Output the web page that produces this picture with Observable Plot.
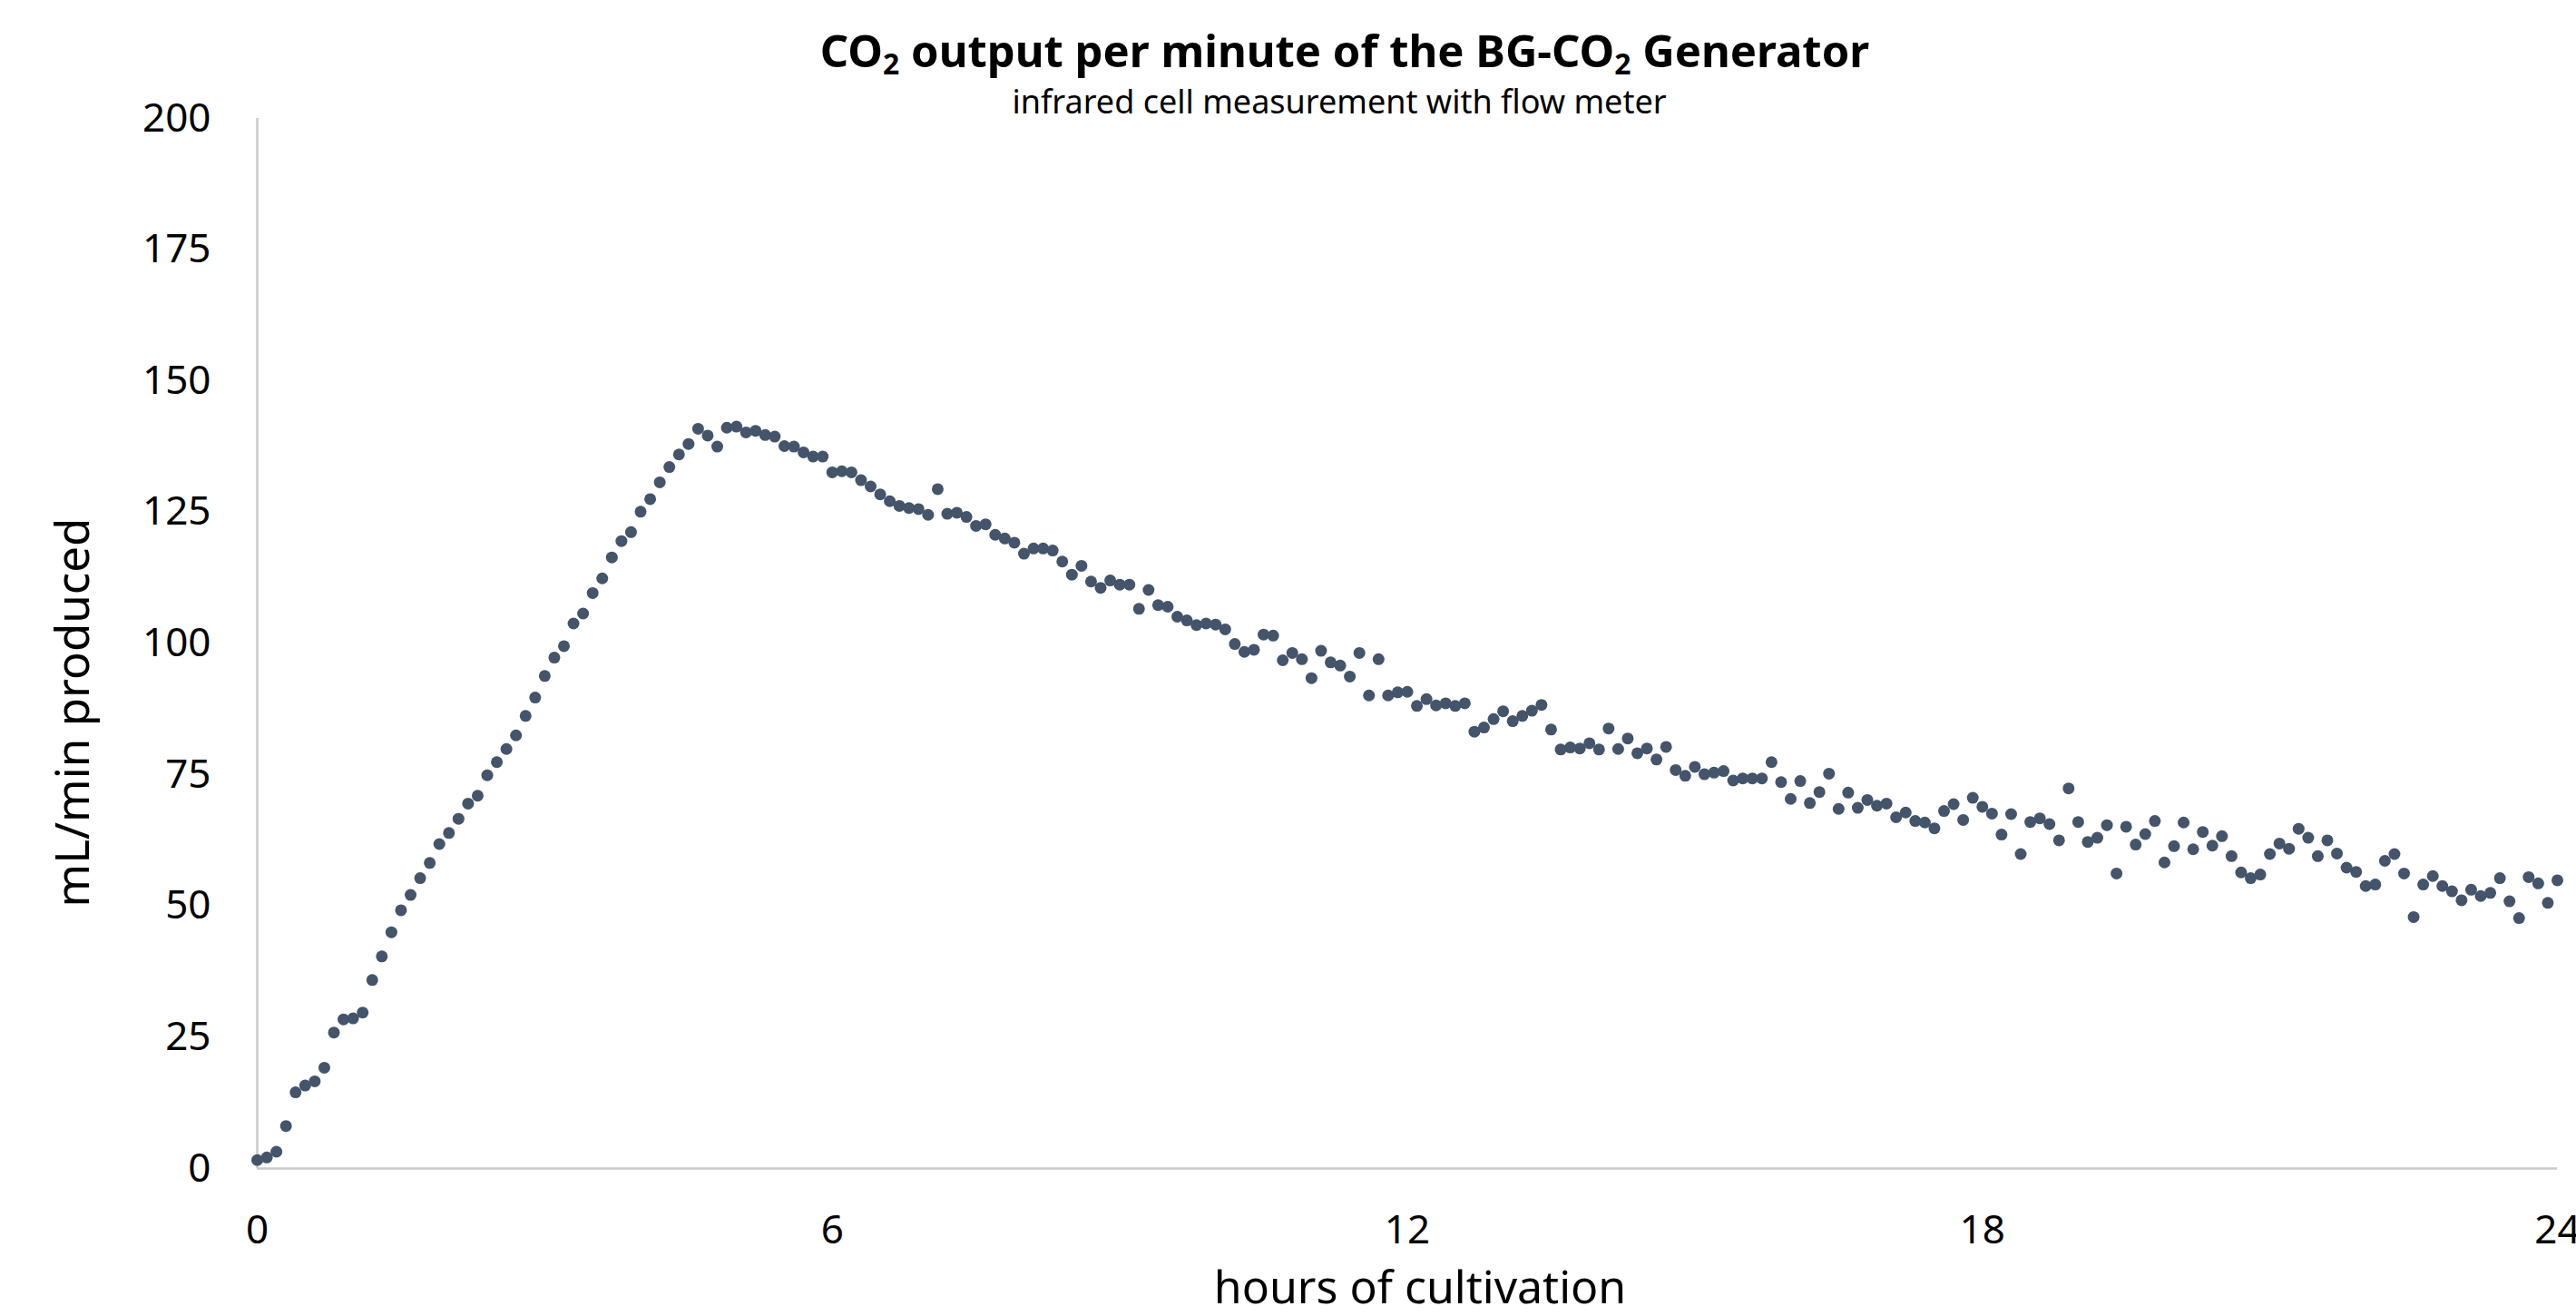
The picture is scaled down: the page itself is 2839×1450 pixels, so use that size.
<!DOCTYPE html>
<html>
<head>
<meta charset="utf-8">
<script src="https://cdn.jsdelivr.net/npm/d3@7"></script>
<script src="https://cdn.jsdelivr.net/npm/@observablehq/plot@0.6"></script>
<style>
  html, body { margin: 0; padding: 0; background: #fff; }
  #head { position: relative; height: 100px; z-index: 2; font-family: "Noto Sans", sans-serif; color: #000; }
  #title { position: absolute; left: 1482px; top: 31px; transform: translateX(-50%); white-space: nowrap; font-weight: bold; font-size: 49px; line-height: 1; }
  #subtitle { position: absolute; left: 1476px; top: 94px; transform: translateX(-50%); white-space: nowrap; font-size: 36px; line-height: 1; }
  #chart { position: relative; z-index: 1; }
</style>
</head>
<body>
<div id="head">
  <div id="title">CO<sub style="font-size:0.65em;vertical-align:-0.25em">2</sub> output per minute of the BG-CO<sub style="font-size:0.65em;vertical-align:-0.25em">2</sub> Generator</div>
  <div id="subtitle">infrared cell measurement with flow meter</div>
</div>
<div id="chart"></div>
<script>
// Sampling interval of the measurement (hours between samples: every 6 minutes)
const sampleIntervalHours = 0.1;

// CO2 output (mL/min), one value per sample from 0 h to 24 h
const co2Output = [
  1.6, 2.1, 3.2, 8.1, 14.5, 15.8, 16.6, 19.2, 25.9, 28.4, 28.6, 29.7, 35.9, 40.4, 45.0, 49.2,
  52.1, 55.3, 58.2, 61.8, 63.9, 66.6, 69.5, 71.0, 74.9, 77.4, 79.9, 82.5, 86.2, 89.7, 93.8,
  97.3, 99.5, 103.8, 105.7, 109.6, 112.4, 116.4, 119.5, 121.2, 125.1,
  127.5, 130.7, 133.6, 136.0, 138.0, 140.9, 139.6, 137.5, 141.1, 141.3,
  140.2, 140.5, 139.7, 139.4, 137.6, 137.5, 136.4, 135.6, 135.6, 132.6,
  132.8, 132.6, 131.1, 129.9, 128.4, 127.1, 126.2, 125.8, 125.6, 124.5,
  129.4, 124.7, 124.9, 124.1, 122.4, 122.7, 120.7, 120.0, 119.2, 117.1,
  118.1, 118.1, 117.7, 115.6, 113.1, 114.8, 111.8, 110.6, 112.0, 111.2,
  111.2, 106.6, 110.2, 107.3, 107.0, 105.1, 104.4, 103.5, 103.8, 103.6,
  102.7, 99.9, 98.4, 98.8, 101.7, 101.5, 96.8, 98.2, 97.0, 93.4,
  98.6, 96.4, 95.8, 93.7, 98.2, 90.1, 97.0, 90.1, 90.7, 90.8,
  88.1, 89.4, 88.2, 88.6, 88.1, 88.6, 83.2, 84.0, 85.6, 87.1,
  85.2, 86.2, 87.2, 88.3, 83.6, 79.8, 80.2, 80.0, 81.0, 79.8,
  83.8, 79.9, 81.9, 79.1, 80.0, 77.9, 80.3, 75.9, 74.8, 76.5,
  75.1, 75.4, 75.7, 73.9, 74.3, 74.3, 74.3, 77.4, 73.6, 70.4,
  73.8, 69.6, 71.7, 75.2, 68.5, 71.6, 68.7, 70.2, 69.1, 69.5,
  66.9, 67.8, 66.2, 65.9, 64.8, 68.1, 69.4, 66.4, 70.6, 68.9,
  67.6, 63.6, 67.5, 59.9, 66.0, 66.7, 65.6, 62.5, 72.4, 66.0,
  62.2, 63.0, 65.4, 56.2, 65.1, 61.7, 63.7, 66.2, 58.3, 61.4,
  65.9, 60.8, 64.1, 61.5, 63.3, 59.5, 56.4, 55.3, 56.0, 59.9,
  61.9, 60.9, 64.7, 63.0, 59.5, 62.5, 60.0, 57.3, 56.5, 53.8,
  54.1, 58.6, 59.9, 56.2, 47.9, 54.1, 55.7, 53.8, 52.8, 51.1,
  53.1, 51.9, 52.5, 55.3, 50.9, 47.7, 55.5, 54.3, 50.6, 54.9
];

const xTicks = [0, 6, 12, 18, 24];
const yTicks = [0, 25, 50, 75, 100, 125, 150, 175, 200];
const xLabel = "hours of cultivation";
const yLabel = "mL/min produced";

const samples = co2Output.map((v, i) => ({ hour: Math.round(i * sampleIntervalHours * 10) / 10, value: v }));

const axisColor = "#c9c9c9";
const dotColor = "#44546a";

const chart = Plot.plot({
  width: 2839,
  height: 1350,
  marginTop: 30,
  marginBottom: 163,
  marginLeft: 283,
  marginRight: 21,
  style: { fontFamily: "'Noto Sans', sans-serif", fontSize: "44px", color: "#000", background: "transparent", overflow: "visible" },
  x: { domain: [0, 24], ticks: xTicks, tickSize: 0, tickPadding: 51, label: null },
  y: { domain: [0, 200], ticks: yTicks, tickSize: 0, tickPadding: 51, label: null },
  marks: [
    Plot.ruleX([0], { stroke: axisColor, strokeWidth: 2.5 }),
    Plot.ruleY([0], { stroke: axisColor, strokeWidth: 2.5 }),
    Plot.dot(samples, { x: "hour", y: "value", r: 6.5, fill: dotColor, stroke: "none" }),
    Plot.text([yLabel], { text: d => d, frameAnchor: "left", textAnchor: "middle", lineAnchor: "middle", rotate: -90, dx: -202, dy: 76, fontSize: 51, fill: "#000" }),
    Plot.text([xLabel], { text: d => d, frameAnchor: "bottom", textAnchor: "middle", lineAnchor: "middle", dx: 14, dy: 132, fontSize: 50, fill: "#000" })
  ]
});
document.getElementById("chart").appendChild(chart);
</script>
</body>
</html>
